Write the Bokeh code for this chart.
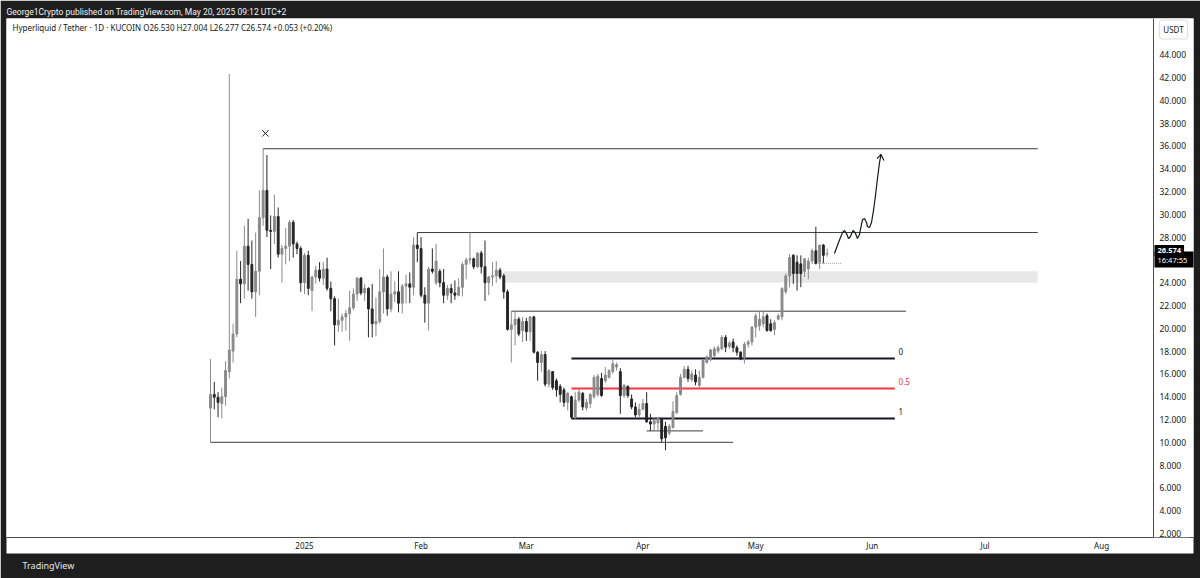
import pandas as pd
from bokeh.plotting import figure
from bokeh.models import ColumnDataSource, Range1d, FixedTicker, Label, Title, PrintfTickFormatter
from bokeh.core.properties import value
from bokeh.embed import file_html
from bokeh.resources import INLINE

# ---------------- data (HYPE/USDT 1D, KuCoin) ----------------
start_date = "2024-12-07"
opens = [13.0, 14.2, 13.95, 13.4, 14.0, 16.2, 18.0, 19.5, 24.3, 23.9,
         27.2, 25.6, 23.2, 25.0, 29.7, 32.1, 28.6, 28.5, 29.8, 26.5,
         27.0, 27.2, 29.3, 27.4, 27.0, 24.0, 26.4, 23.3, 24.5, 25.1,
         24.4, 25.2, 23.5, 22.6, 20.3, 20.7, 21.0, 21.3, 21.8, 23.0,
         24.4, 23.1, 23.5, 21.7, 20.4, 20.6, 23.2, 24.5, 21.7, 23.0,
         23.2, 22.2, 23.7, 23.9, 23.6, 27.3, 27.0, 22.9, 22.2, 25.2,
         24.0, 25.0, 24.0, 22.9, 23.5, 23.1, 22.9, 23.6, 25.6, 26.0,
         26.1, 25.4, 26.6, 25.4, 24.0, 24.5, 24.6, 25.1, 24.6, 23.2,
         19.9, 20.3, 20.8, 19.8, 20.6, 19.7, 21.0, 17.9, 17.0, 17.7,
         15.1, 16.2, 15.4, 14.9, 14.6, 13.5, 14.0, 12.2, 13.7, 14.3,
         13.0, 13.4, 14.0, 14.2, 15.6, 15.4, 15.7, 16.2, 16.6, 16.2,
         14.1, 14.9, 13.8, 13.1, 12.4, 12.9, 13.4, 11.8, 11.6, 11.7,
         12.0, 11.4, 10.8, 11.3, 12.6, 14.2, 15.7, 16.4, 15.5, 15.9,
         15.0, 15.7, 17.0, 17.3, 17.6, 18.0, 18.2, 19.2, 18.4, 18.8,
         18.3, 17.9, 17.4, 18.6, 18.8, 20.1, 20.2, 20.4, 21.1, 20.4,
         19.9, 20.8, 21.0, 23.2, 24.6, 26.4, 25.8, 25.65, 25.0, 25.2,
         25.9, 26.8, 25.8, 27.3, 26.53]
highs = [17.3, 15.3, 14.4, 14.8, 17.1, 42.3, 20.4, 26.8, 25.9, 29.0,
         29.6, 27.7, 28.4, 32.1, 35.75, 35.2, 29.9, 31.7, 30.6, 27.3,
         28.8, 29.5, 29.5, 27.6, 27.2, 26.6, 26.8, 24.6, 25.5, 25.8,
         25.8, 26.2, 24.1, 22.8, 22.6, 21.3, 21.6, 23.3, 23.5, 24.5,
         24.5, 23.9, 23.6, 23.9, 22.7, 25.2, 27.0, 24.7, 25.0, 24.1,
         25.0, 23.9, 24.7, 24.9, 28.0, 28.4, 28.0, 23.6, 25.4, 27.0,
         27.4, 25.2, 25.2, 23.8, 23.9, 24.2, 24.4, 25.8, 26.2, 28.4,
         26.2, 26.7, 26.8, 27.7, 24.6, 25.8, 25.9, 25.3, 24.8, 23.4,
         21.5, 21.5, 21.0, 21.0, 20.9, 21.1, 21.1, 18.0, 18.0, 18.0,
         16.4, 16.2, 15.6, 15.1, 14.8, 14.4, 14.1, 14.4, 14.7, 14.4,
         13.8, 14.3, 15.9, 16.0, 16.1, 16.6, 16.4, 17.3, 17.0, 16.5,
         15.1, 15.0, 14.2, 13.5, 13.4, 13.8, 14.4, 12.5, 12.2, 12.2,
         12.1, 11.8, 11.6, 13.6, 14.4, 16.0, 16.7, 16.7, 16.3, 16.4,
         16.3, 17.3, 17.6, 18.2, 18.4, 18.5, 19.4, 19.4, 18.9, 19.1,
         18.5, 18.0, 18.8, 19.0, 20.2, 21.3, 21.5, 21.5, 21.3, 20.8,
         20.7, 21.3, 23.6, 24.8, 26.5, 26.5, 26.4, 26.4, 26.1, 26.2,
         27.0, 28.9, 27.3, 27.4, 27.004]
lows = [10.0, 12.9, 12.2, 12.1, 13.2, 15.6, 17.0, 19.2, 22.2, 22.6,
        23.3, 22.6, 21.0, 22.9, 29.0, 28.0, 25.2, 27.4, 26.2, 24.0,
        25.6, 25.9, 26.2, 26.5, 23.2, 23.0, 22.9, 21.5, 23.9, 24.1,
        23.8, 23.3, 21.5, 18.5, 19.7, 19.7, 19.8, 18.9, 21.6, 22.4,
        22.9, 22.4, 19.2, 19.2, 19.3, 20.4, 21.3, 21.1, 21.4, 22.3,
        21.4, 21.3, 22.2, 22.2, 22.9, 25.8, 22.7, 20.5, 19.8, 24.8,
        23.8, 23.6, 22.2, 22.5, 22.2, 22.5, 22.8, 22.8, 24.3, 25.6,
        25.2, 25.3, 24.8, 22.4, 22.9, 23.7, 24.0, 24.3, 22.6, 19.8,
        17.0, 18.5, 19.3, 18.8, 18.9, 18.9, 17.8, 15.4, 16.2, 14.9,
        14.8, 14.6, 14.0, 13.5, 13.1, 12.8, 12.05, 12.05, 13.5, 12.8,
        12.8, 13.0, 13.8, 14.0, 14.0, 15.2, 15.6, 16.0, 16.3, 12.5,
        13.9, 13.9, 12.9, 12.2, 12.2, 12.8, 11.7, 11.0, 11.0, 11.0,
        10.0, 9.3, 10.6, 11.2, 12.5, 14.1, 15.6, 15.3, 15.3, 15.0,
        14.7, 15.6, 16.9, 17.1, 17.4, 17.8, 18.1, 17.9, 18.2, 17.9,
        17.6, 17.2, 16.9, 18.3, 18.5, 19.2, 19.8, 20.1, 19.7, 19.7,
        19.4, 20.7, 20.7, 23.0, 23.6, 23.9, 23.3, 23.6, 24.5, 24.3,
        25.7, 25.6, 25.2, 25.7, 26.277]
closes = [14.2, 13.95, 13.5, 14.0, 16.3, 18.1, 19.5, 24.3, 23.9, 27.2,
          25.6, 23.2, 25.0, 29.7, 32.1, 28.6, 28.5, 29.8, 26.5, 27.0,
          27.2, 29.3, 27.4, 27.0, 24.0, 26.4, 23.5, 24.5, 25.1, 24.4,
          25.2, 23.5, 22.6, 20.3, 20.7, 21.0, 21.3, 21.8, 23.0, 24.4,
          23.1, 23.5, 21.7, 20.4, 20.6, 23.2, 24.5, 21.7, 23.0, 23.2,
          22.2, 23.7, 23.9, 23.6, 27.3, 27.0, 22.9, 22.2, 25.2, 25.0,
          25.9, 24.0, 22.9, 23.5, 23.1, 22.9, 23.6, 25.6, 26.0, 26.1,
          25.4, 26.6, 25.4, 24.0, 24.5, 24.6, 25.1, 24.5, 23.2, 19.9,
          20.3, 20.8, 19.5, 20.6, 19.7, 21.0, 17.9, 17.0, 17.7, 15.1,
          16.3, 14.8, 14.6, 14.2, 13.5, 14.3, 12.2, 13.7, 14.4, 13.1,
          13.5, 14.2, 15.7, 15.8, 14.1, 15.9, 16.3, 16.9, 16.8, 14.1,
          15.0, 14.1, 13.1, 12.4, 12.9, 13.4, 11.8, 11.6, 11.9, 12.1,
          10.3, 10.4, 11.4, 12.7, 14.1, 15.7, 16.4, 15.6, 16.0, 15.3,
          15.7, 17.2, 17.5, 18.1, 18.2, 18.3, 19.2, 18.35, 18.7, 18.3,
          17.9, 17.3, 18.6, 18.8, 20.1, 21.1, 20.8, 21.0, 19.8, 19.8,
          20.5, 21.1, 23.5, 24.6, 26.2, 24.8, 24.8, 24.8, 26.1, 25.9,
          26.8, 25.7, 27.3, 26.4, 26.574]

# drawings
level_prices = [35.75, 28.4, 21.5, 11.0, 10.0]
level_start = ["2024-12-21", "2025-01-31", "2025-02-25", "2025-04-02", "2024-12-07"]
level_end = ["2025-07-15", "2025-07-15", "2025-06-10", "2025-04-17", "2025-04-25"]
zone_bottom, zone_top = 24.0, 25.0
zone_start, zone_end = "2025-02-23", "2025-07-15"
fib_levels = [17.35, 14.72, 12.09]
fib_labels = ["0", "0.5", "1"]
fib_colors = ["#131722", "#f23645", "#131722"]
fib_start, fib_end, fib_label_day = "2025-03-13", "2025-06-07", "2025-06-08"
dotted_price, dotted_start, dotted_end = 25.7, "2025-05-16", "2025-05-24"
# hand-drawn projection path: days after 2025-01-01, price
path_days = [140.96, 142.02, 143.09, 143.62, 144.15, 144.68, 145.21, 145.74, 146.01,
             146.54, 147.07, 147.61, 148.14, 148.40, 148.94, 149.47, 149.73, 150.27,
             150.80, 151.33, 151.86, 152.39, 152.93, 153.32]
path_prices = [26.56, 27.53, 28.40, 28.58, 28.32, 27.88, 28.05, 28.49, 28.58,
               28.32, 27.88, 28.23, 29.11, 29.54, 29.63, 29.28, 28.93, 28.84,
               29.28, 30.33, 31.65, 33.14, 34.54, 35.25]
arrow_days = [152.26, 153.32, 154.12]
arrow_prices = [34.89, 35.25, 34.72]
cross_day, cross_price = -10.4, 37.1

month_starts = ["2025-01-01", "2025-02-01", "2025-03-01", "2025-04-01",
                "2025-05-01", "2025-06-01", "2025-07-01", "2025-08-01"]
month_labels = ["2025", "Feb", "Mar", "Apr", "May", "Jun", "Jul", "Aug"]
price_ticks = list(range(2, 46, 2))
view_start_day, view_end_day = -79.26, 236.44   # visible time span (days after 2025-01-01)
price_axis_day = 225.8                          # where the price scale begins
view_low, view_high = 1.649, 47.175

# ---------------- helpers ----------------
origin = pd.Timestamp("2025-01-01")
def day(s):
    return (pd.Timestamp(s) - origin) / pd.Timedelta(days=1)

dates = pd.date_range(start_date, periods=len(opens), freq="D")
xs = [day(d) for d in dates]
UP, DOWN = "#8a8a8a", "#262626"
colors = [UP if c >= o else DOWN for o, c in zip(opens, closes)]
src = ColumnDataSource(dict(x=xs, o=opens, h=highs, l=lows, c=closes, col=colors,
                            top=[max(o, c) for o, c in zip(opens, closes)],
                            bot=[min(o, c) for o, c in zip(opens, closes)]))

FONT = "Noto Sans"
p = figure(frame_width=1187, frame_height=519, output_backend="svg", toolbar_location=None,
           x_range=Range1d(view_start_day, view_end_day), y_range=Range1d(view_low, view_high),
           y_axis_location="right", min_border_left=6, min_border_right=7,
           min_border_top=18, min_border_bottom=41,
           background_fill_color="white", border_fill_color="#1e1e1e")
p.grid.visible = False
p.outline_line_color = None

# top caption
p.add_layout(Title(text="George1Crypto published on TradingView.com, May 20, 2025 09:12 UTC+2",
                   text_color="#f2f2f2", text_font_size="8.5px", text_font="Roboto",
                   text_font_style="normal", align="left", standoff=4, offset=0), "above")

# axes
ya = p.yaxis[0]
ya.ticker = FixedTicker(ticks=price_ticks)
ya.formatter = PrintfTickFormatter(format="%.3f")
ya.fixed_location = price_axis_day
xa = p.xaxis[0]
xa.ticker = FixedTicker(ticks=[day(m) for m in month_starts])
xa.major_label_overrides = {day(m): lab for m, lab in zip(month_starts, month_labels)}
for ax in (ya, xa):
    ax.major_tick_line_color = None
    ax.minor_tick_line_color = None
    ax.major_tick_out = 0
    ax.major_tick_in = 0
    ax.major_label_text_font = FONT
    ax.major_label_text_color = "#131722"
    ax.axis_line_color = "#4a4a4a"
    ax.background_fill_color = "white"
ya.major_label_text_font_size = "8.5px"
xa.major_label_text_font_size = "8px"
ya.major_label_standoff = 6
xa.major_label_standoff = 2

p.add_layout(Title(text="TradingView", text_color="#e8e8e8", text_font_size="9px",
                   text_font=FONT, text_font_style="normal", align="left",
                   offset=16, standoff=6), "below")

# zone
p.quad(left=[day(zone_start)], right=[day(zone_end)], bottom=[zone_bottom], top=[zone_top],
       fill_color="#e8e8e8", line_color=None)

# horizontal levels
p.segment(x0=[day(s) for s in level_start], x1=[day(e) for e in level_end],
          y0=level_prices, y1=level_prices, line_color="#3c3c3c", line_width=1)
# fib
p.segment(x0=[day(fib_start)] * 3, x1=[day(fib_end)] * 3, y0=fib_levels, y1=fib_levels,
          line_color=fib_colors, line_width=2)
p.text(x=[day(fib_label_day)] * 3, y=[v + 0.6 for v in fib_levels], text=fib_labels,
       text_color=fib_colors, text_font_size="8px", text_font=value(FONT),
       text_baseline="middle", text_align="left")
# dotted
p.segment(x0=[day(dotted_start)], x1=[day(dotted_end)], y0=[dotted_price], y1=[dotted_price],
          line_color="#9a9a9a", line_dash="1 1", line_width=1)

# candles
p.segment(x0="x", x1="x", y0="l", y1="h", line_color="col", line_width=1, source=src)
p.vbar(x="x", width=0.5, top="top", bottom="bot", fill_color="col", line_color="col",
       line_width=1, source=src)

# projection path + cross mark
p.line(path_days, path_prices, line_color="#131722", line_width=1.2)
p.line(arrow_days, arrow_prices, line_color="#131722", line_width=1.2)
p.scatter([cross_day], [cross_price], marker="x", size=9, line_color="#131722", line_width=1)

# legend header
p.add_layout(Label(x=6, y=510, x_units="screen", y_units="screen",
                   text="Hyperliquid / Tether \u00b7 1D \u00b7 KUCOIN  O26.530  H27.004  L26.277  C26.574  +0.053 (+0.20%)",
                   text_font_size="8px", text_font=FONT, text_color="#131722",
                   text_baseline="middle"))
# USDT box
p.add_layout(Label(x=1167, y=508, x_units="screen", y_units="screen", text="USDT",
                   text_font_size="8px", text_font=FONT, text_color="#131722",
                   text_align="center", text_baseline="middle",
                   background_fill_color="white", border_line_color="#dcdcdc",
                   padding=4, border_radius=3))
# last price box
p.add_layout(Label(x=1148, y=278, x_units="screen", y_units="screen", text="16:47:55   ",
                   text_font_size="7.5px", text_font=FONT, text_color="white",
                   text_baseline="middle", background_fill_color="#000000", padding=3))
p.add_layout(Label(x=1148, y=287, x_units="screen", y_units="screen", text="26.574",
                   text_font_size="7.5px", text_font=FONT, text_font_style="bold",
                   text_color="white", text_baseline="middle",
                   background_fill_color="#000000", padding=3))

open("out.html", "w").write(file_html(p, INLINE))
